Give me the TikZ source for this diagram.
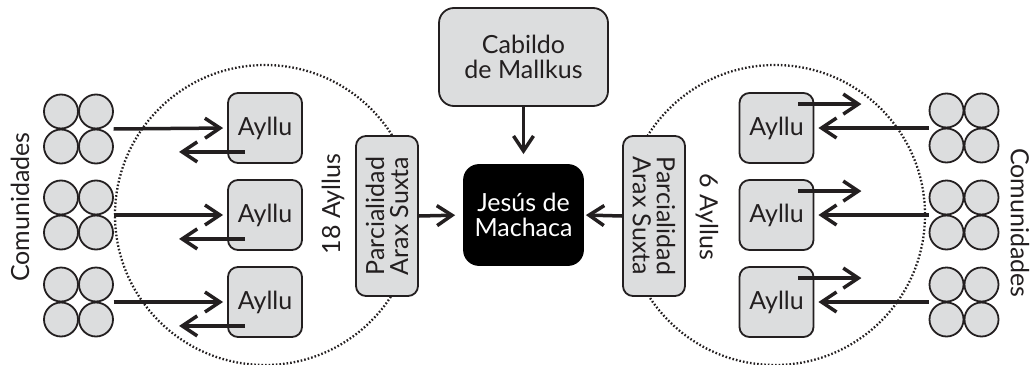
\documentclass[tikz,border=0pt]{standalone}
\usepackage{fontspec}
\setmainfont{Lato}
\usetikzlibrary{arrows.meta,calc}
\definecolor{boxgray}{HTML}{DCDDDE}
\definecolor{ink}{HTML}{231F20}
\tikzset{
  unitbox/.style={draw=ink, line width=1.8pt, fill=boxgray, rounded corners=10pt, inner sep=0pt, align=center, font=\fontsize{25}{25}\selectfont, text=ink},
  aylbox/.style={unitbox, minimum width=74pt, minimum height=70pt},
  parbox/.style={unitbox, minimum width=160pt, minimum height=62pt, font=\fontsize{25}{24}\selectfont},
  com/.style={circle, draw=ink, line width=1.8pt, fill=boxgray, minimum size=34pt, inner sep=0pt},
  grp/.style={minimum width=70pt, minimum height=70pt, inner sep=0pt},
  arr/.style={draw=ink, line width=3.5pt, -{Straight Barb[length=15pt,width=20pt]}},
  ring/.style={draw=ink, line width=2.3pt, dash pattern=on 1.6pt off 2pt},
  lbl/.style={font=\fontsize{25}{25}\selectfont, text=ink, inner sep=0pt},
}
\begin{document}
\begin{tikzpicture}[x=1pt,y=-1pt]
\useasboundingbox (0,0) rectangle (1030,364);
% dotted rings
\draw[ring] (265,215) circle[radius=150];
\draw[ring] (775,215) circle[radius=150];
% community groups
\foreach \n/\cx/\cy in {l1/78.5/129, l2/78.5/215, l3/78.5/302, r1/964/128, r2/964/215, r3/964/302}{
  \node[grp] (g\n) at (\cx,\cy) {};
  \node[com] (g\n a) at (\cx-17.5,\cy-17.5) {};
  \node[com] (g\n b) at (\cx+17.5,\cy-17.5) {};
  \node[com] (g\n c) at (\cx-17.5,\cy+17.5) {};
  \node[com] (g\n d) at (\cx+17.5,\cy+17.5) {};
}
% Ayllu boxes
\node[aylbox] (al1) at (265,128) {Ayllu};
\node[aylbox] (al2) at (265,215) {Ayllu};
\node[aylbox] (al3) at (265,302) {Ayllu};
\node[aylbox] (ar1) at (776.5,128) {Ayllu};
\node[aylbox] (ar2) at (776.5,215) {Ayllu};
\node[aylbox] (ar3) at (776.5,302) {Ayllu};
% Parcialidades
\node[parbox, rotate=90] (pl) at (387,216) {Parcialidad\\Arax Suxta};
\node[parbox, rotate=-90] (pr) at (654,216) {Parcialidad\\Arax Suxta};
% central boxes
\node[unitbox, minimum width=169pt, minimum height=98pt, rounded corners=15pt] (cab) at (523.5,57) {Cabildo\\de Mallkus};
\node[unitbox, fill=black, draw=black, text=white, minimum width=119pt, minimum height=100pt, rounded corners=15pt] (jm) at (523.5,215) {Jesús de\\Machaca};
% labels
\node[lbl, rotate=90] (cl) at (20,207) {Comunidades};
\node[lbl, rotate=-90] (cr) at (1020,223) {Comunidades};
\node[lbl, rotate=90] (n18) at (333,204) {18 Ayllus};
\node[lbl, rotate=-90] (n6) at (707,217) {6 Ayllus};
% left arrows
\foreach \i in {1,2,3}{
  \draw[arr, shorten >=4pt] (gl\i.east) -- (al\i.west);
  \draw[arr] ([xshift=18pt,yshift=12pt]al\i.south west) -- ++(-66,0);
}
% right arrows
\foreach \i in {1,2,3}{
  \draw[arr, shorten >=4pt] (gr\i.west) -- (ar\i.east);
  \draw[arr] ([xshift=-16pt,yshift=-12pt]ar\i.north east) -- ++(63,0);
}
% central arrows
\draw[arr, shorten >=8pt] (pl.south) -- (jm.west);
\draw[arr, shorten >=2pt] (pr.south) -- (jm.east);
\draw[arr, shorten >=10pt] (cab.south) -- (jm.north);
\end{tikzpicture}
\end{document}
